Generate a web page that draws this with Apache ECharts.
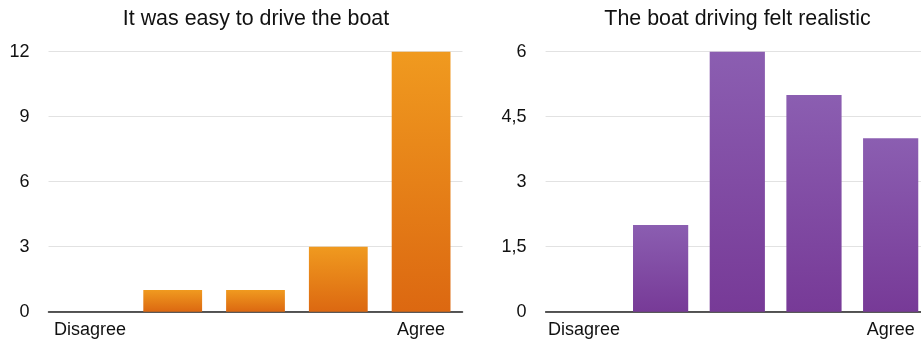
<!DOCTYPE html>
<html>
<head>
<meta charset="utf-8">
<script src="https://cdn.jsdelivr.net/npm/echarts@6/dist/echarts.min.js"></script>
<style>
html,body{margin:0;padding:0;background:#fff;}
#c{width:921px;height:341px;}
</style>
</head>
<body>
<div id="c"></div>
<script>
const categories = ['Disagree', '', '', '', 'Agree'];
const easyValues = [0, 1, 1, 3, 12];
const realisticValues = [0, 2, 6, 5, 4];
const titles = ['It was easy to drive the boat', 'The boat driving felt realistic'];
const leftTicks = { min: 0, max: 12, interval: 3 };
const rightTicks = { min: 0, max: 6, interval: 1.5 };

const FONT = '"Liberation Sans", Arial, Helvetica, sans-serif';
const chart = echarts.init(document.getElementById('c'), null, { renderer: 'canvas' });

function grad(top, bottom) {
  return new echarts.graphic.LinearGradient(0, 0, 0, 1, [
    { offset: 0, color: top },
    { offset: 1, color: bottom }
  ]);
}

const xAxisBase = {
  type: 'category',
  data: categories,
  axisTick: { show: false },
  axisLine: { lineStyle: { color: '#222', width: 1.5 } },
  axisLabel: { color: '#111', fontFamily: FONT, fontSize: 18, margin: 9, interval: 0 },
  splitLine: { show: false }
};
const yAxisBase = {
  type: 'value',
  axisLine: { show: false },
  axisTick: { show: false },
  axisLabel: { color: '#111', fontFamily: FONT, fontSize: 18, margin: 19 },
  splitLine: { lineStyle: { color: '#e2e2e2', width: 1 } }
};

const titleStyle = { fontFamily: FONT, fontSize: 21.4, fontWeight: 'normal', color: '#111' };

chart.setOption({
  animation: false,
  backgroundColor: '#fff',
  title: [
    { text: titles[0], left: 251, top: 4, textAlign: 'center', textStyle: titleStyle },
    { text: titles[1], left: 732.5, top: 4, textAlign: 'center', textStyle: titleStyle }
  ],
  grid: [
    { left: 48.5, width: 414, top: 51.7, height: 260, outerBoundsMode: 'none', containLabel: false },
    { left: 545.6, width: 383.4, top: 51.7, height: 260, outerBoundsMode: 'none', containLabel: false }
  ],
  xAxis: [
    Object.assign({}, xAxisBase, { gridIndex: 0 }),
    Object.assign({}, xAxisBase, { gridIndex: 1 })
  ],
  yAxis: [
    Object.assign({}, yAxisBase, { gridIndex: 0, min: leftTicks.min, max: leftTicks.max, interval: leftTicks.interval }),
    Object.assign({}, yAxisBase, { gridIndex: 1, min: rightTicks.min, max: rightTicks.max, interval: rightTicks.interval,
      axisLabel: Object.assign({}, yAxisBase.axisLabel, { formatter: v => String(v).replace('.', ',') }) })
  ],
  series: [
    { type: 'bar', xAxisIndex: 0, yAxisIndex: 0, data: easyValues, barCategoryGap: '29%',
      itemStyle: { color: grad('#F09A1F', '#DC6811') } },
    { type: 'bar', xAxisIndex: 1, yAxisIndex: 1, data: realisticValues, barCategoryGap: '28%',
      itemStyle: { color: grad('#8B5EB1', '#773A97') } }
  ]
});
</script>
</body>
</html>
